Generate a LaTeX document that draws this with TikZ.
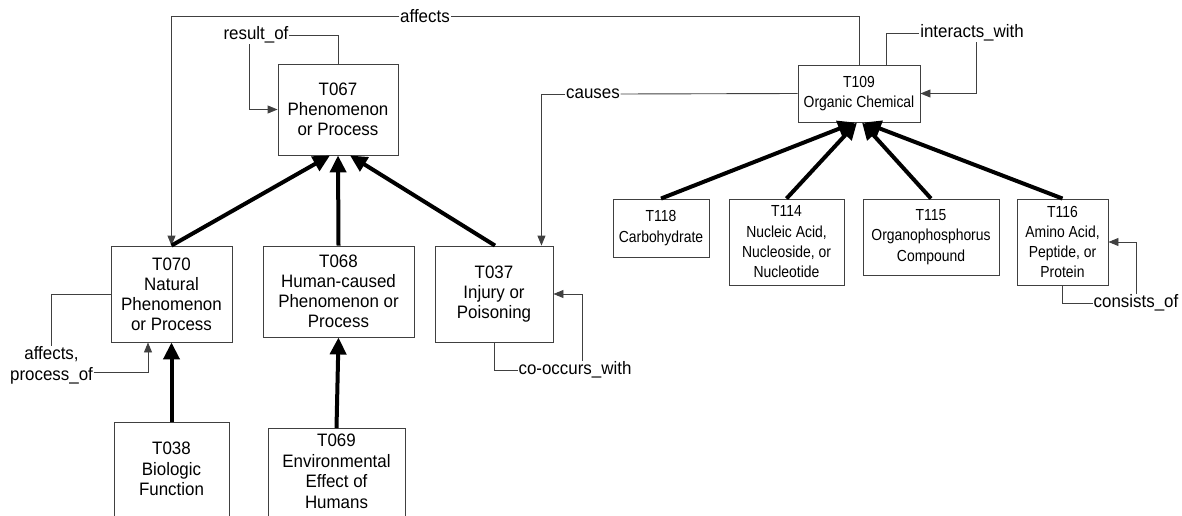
\documentclass[tikz,border=0pt]{standalone}
\usepackage{fontspec}
\setmainfont{Liberation Sans}
\newfontfamily\mainnarrow[FakeStretch=0.94]{Liberation Sans}
\newfontfamily\smallnarrow[FakeStretch=0.87]{Liberation Sans}
\usetikzlibrary{arrows.meta,calc}
\begin{document}
\begin{tikzpicture}[x=1pt,y=-1pt,
 box/.style={draw=black!75,line width=0.9pt,align=center,inner sep=0pt,font=\mainnarrow\fontsize{18pt}{20pt}\selectfont},
 sbox/.style={box,font=\smallnarrow\fontsize{16pt}{20.3pt}\selectfont},
 txt/.style={align=center,inner sep=0pt,font=\mainnarrow\fontsize{18pt}{20.5pt}\selectfont},
 lbl/.style={fill=white,inner sep=0.6pt,align=center,font=\mainnarrow\fontsize{18pt}{21pt}\selectfont},
 thinline/.style={draw=black!75,line width=0.9pt},
 thinarr/.style={thinline,-{Triangle[length=10pt,width=8pt]}},
 isa/.style={line width=4pt,-{Triangle[length=17pt,width=16pt]}},
]
\useasboundingbox (0,0) rectangle (1182,516);
\clip (0,0) rectangle (1182,516);

% left cluster
\node[box,minimum width=120pt,minimum height=91pt] (T067) at (338,109.5) {T067\\Phenomenon\\or Process};
\node[box,minimum width=121pt,minimum height=96pt] (T070) at (171.5,294) {T070\\Natural\\Phenomenon\\or Process};
\node[box,minimum width=151pt,minimum height=91pt] (T068) at (338.5,291.5) {T068\\Human-caused\\Phenomenon or\\Process};
\node[box,minimum width=118pt,minimum height=96pt] (T037) at (494,294) {T037\\Injury or\\Poisoning};
\node[box,minimum width=115pt,minimum height=100pt,anchor=north] (T038) at (171.5,422) {};
\node[txt] (T038t) at (171.5,469) {T038\\Biologic\\Function};
\node[box,minimum width=137pt,minimum height=100pt,anchor=north] (T069) at (336.5,428) {};
\node[txt] (T069t) at (336.5,471.5) {T069\\Environmental\\Effect of\\Humans};

% right cluster
\node[sbox,minimum width=122pt,minimum height=57pt] (T109) at (859,93.5) {T109\\Organic Chemical};
\node[sbox,minimum width=96pt,minimum height=58pt] (T118) at (661,228) {T118\\Carbohydrate};
\node[sbox,minimum width=115pt,minimum height=86pt] (T114) at (786.5,242) {T114\\Nucleic Acid,\\Nucleoside, or\\Nucleotide};
\node[sbox,minimum width=136pt,minimum height=76pt] (T115) at (931,237) {T115\\Organophosphorus\\Compound};
\node[sbox,minimum width=91pt,minimum height=86pt] (T116) at (1062.5,242) {T116\\Amino Acid,\\Peptide, or\\Protein};

% relation labels
\node[lbl] (laff) at (425,16) {affects};
\node[lbl] (lres) at (256,35) {result\_of};
\node[lbl] (lcau) at (593,94) {causes};
\node[lbl] (lint) at (972,33) {interacts\_with};
\node[lbl] (lco) at (575,370) {co-occurs\_with};
\node[lbl] (lcon) at (1136,303) {consists\_of};
\node[lbl] (lap) at (51.5,365.5) {affects,\\process\_of};

% relation connectors
\draw[thinline] (T109.north) |- (laff.east);
\draw[thinarr] (laff.west) -| (T070.north);
\draw[thinline] (T067.north) |- (lres.east);
\draw[thinarr] ([xshift=-7pt]lres.south) |- (T067.west);
\draw[thinline] (T109.west) -- (lcau.east);
\draw[thinarr] (lcau.west) -| ([xshift=-12pt]T037.north east);
\draw[thinline] ([xshift=27pt]T109.north) |- (lint.west);
\draw[thinarr] ([xshift=4pt]lint.south) |- (T109.east);
\draw[thinline] (T037.south) |- (lco.west);
\draw[thinarr] ([xshift=7pt]lco.north) |- (T037.east);
\draw[thinline] (T116.south) |- (lcon.west);
\draw[thinarr] (lcon.north) |- (T116.east);
\draw[thinline] (T070.west) -| (lap.north);
\draw[thinarr] ([yshift=-6.5pt]lap.east) -| ([xshift=-23.5pt]T070.south);

% is-a arrows
\draw[isa] (T070.north) -- ([xshift=-8pt]T067.south);
\draw[isa] (T068.north) -- (T067.south);
\draw[isa] ([xshift=1pt]T037.north) -- ([xshift=12pt]T067.south);
\draw[isa] (T038.north) -- (T070.south);
\draw[isa] (T069.north) -- (T068.south);
\draw[isa] (T118.north) -- ([xshift=-4pt]T109.south);
\draw[isa] (T114.north) -- ([xshift=-2pt]T109.south);
\draw[isa] (T115.north) -- ([xshift=3pt]T109.south);
\draw[isa] (T116.north) -- ([xshift=5pt]T109.south);
\end{tikzpicture}
\end{document}
